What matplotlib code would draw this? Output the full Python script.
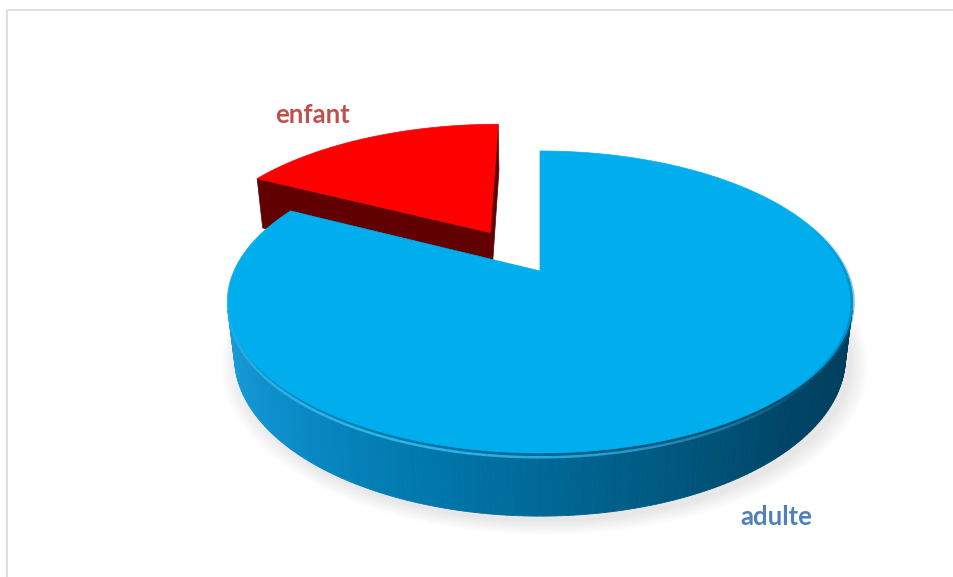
import numpy as np
import matplotlib
matplotlib.use("Agg")
import matplotlib.pyplot as plt
from matplotlib.patches import Polygon, Rectangle
from matplotlib.colors import LinearSegmentedColormap

# donnees du graphique
categories = ["adulte", "enfant"]
values = [82.5, 17.5]
explode = [0.0, 0.33]
top_colors = ["#00AEEE", "#FF0000"]
side_colors = ["#0A8CC8", "#600000"]
label_colors = ["#4F81BD", "#C0504D"]

# camera (perspective style Excel 3D)
cx, cy = 540, 271
F, D = 1316.0, 4.30
elev = np.radians(28.2)
H = 0.207  # epaisseur du camembert


def proj(X, Y, Z):
    d = Y * np.cos(elev) - Z * np.sin(elev)
    up = Y * np.sin(elev) + Z * np.cos(elev)
    s = F / (D + d)
    return cx + X * s, cy - up * s


def rim(t_deg, z, off):
    t = np.radians(t_deg)
    return proj(np.cos(t) + off[0], np.sin(t) + off[1], z)


fig = plt.figure(figsize=(9.54, 5.77), dpi=100)
ax = fig.add_axes([0, 0, 1, 1])
ax.set_xlim(0, 954)
ax.set_ylim(577, 0)
ax.axis("off")

# cadre de la zone de graphique
ax.add_patch(Rectangle((7, 10), 960, 580, fill=False, edgecolor="#D9D9D9", linewidth=1.2))

# angles des parts (depart a 12h, sens horaire)
total = sum(values)
slices = []
start = 90.0
for i, v in enumerate(values):
    span = 360.0 * v / total
    t1, t2 = start - span, start
    mid = np.radians((t1 + t2) / 2)
    off = (explode[i] * np.cos(mid), explode[i] * np.sin(mid))
    slices.append((t1, t2, off))
    start = t1

# ombre douce sous la part "adulte" (secteur complet, centre inclus)
t1, t2, off = slices[0]
tt = np.radians(np.linspace(t1, t2, 200))
for k in range(6):
    grow = 1.0 + 0.01 * k
    xs = np.r_[0.0, np.cos(tt) * grow] + 0.015
    ys = np.r_[0.0, np.sin(tt) * grow] - 0.025
    x, y = proj(xs, ys, -H)
    ax.add_patch(Polygon(np.c_[x, y], closed=True, facecolor="#808080",
                         edgecolor="none", alpha=0.03, zorder=1))

# part "enfant" (a l'arriere)
t1, t2, off = slices[1]
for t_edge in (t1, t2):
    xa, ya = proj(off[0], off[1], 0)
    xb, yb = rim(t_edge, 0, off)
    xc, yc = rim(t_edge, -H, off)
    xd, yd = proj(off[0], off[1], -H)
    ax.add_patch(Polygon([[xa, ya], [xb, yb], [xc, yc], [xd, yd]], closed=True,
                         facecolor=side_colors[1], edgecolor=side_colors[1],
                         linewidth=0.5, zorder=2))
ts = np.linspace(t1, t2, 80)
x, y = rim(ts, 0, off)
x0, y0 = proj(off[0], off[1], 0)
ax.add_patch(Polygon(np.r_[[[x0, y0]], np.c_[x, y]], closed=True,
                     facecolor=top_colors[1], edgecolor=top_colors[1],
                     linewidth=0.5, zorder=3))

# part "adulte" : flanc avec degrade
t1, t2, off = slices[0]
wall_cmap = LinearSegmentedColormap.from_list(
    "wall", ["#1A9DD8", "#0A8CC8", "#0075A8", "#005C85", "#004465", "#003D5C"])
w1 = max(t1, -165.0)
w2 = min(t2, -15.0)
ts = np.linspace(w1, w2, 160)
for a, b in zip(ts[:-1], ts[1:]):
    xa, ya = rim(a, 0, off)
    xb, yb = rim(b, 0, off)
    xc, yc = rim(b, -H, off)
    xd, yd = rim(a, -H, off)
    c = wall_cmap((a - w1) / (w2 - w1))
    ax.add_patch(Polygon([[xa, ya], [xb, yb], [xc, yc], [xd, yd]], closed=True,
                         facecolor=c, edgecolor=c, linewidth=0.6, zorder=4))

ts = np.linspace(t1, t2, 300)
x, y = rim(ts, 0, off)
x0, y0 = proj(off[0], off[1], 0)
ax.add_patch(Polygon(np.r_[[[x0, y0]], np.c_[x, y]], closed=True,
                     facecolor=top_colors[0], edgecolor=top_colors[0],
                     linewidth=0.5, zorder=5))

# biseau : reflet clair qui s'estompe, ombre a droite
ts = np.linspace(-178, -40, 70)
for a, b in zip(ts[:-1], ts[1:]):
    x, y = rim(np.array([a, b]), -0.014, off)
    fade = np.sin(np.pi * (a + 178) / 138)
    ax.plot(x, y, color="#45CCFF", linewidth=1.8, alpha=0.7 * fade, zorder=6,
            solid_capstyle="butt")
ts = np.linspace(-50, 20, 60)
for a, b in zip(ts[:-1], ts[1:]):
    x, y = rim(np.array([a, b]), -0.002, off)
    fade = np.sin(np.pi * (a + 50) / 70)
    ax.plot(x, y, color="#007AAB", linewidth=3.0, alpha=0.5 * fade, zorder=6,
            solid_capstyle="butt")

# etiquettes
ax.text(313, 115, categories[1], color=label_colors[1], fontsize=18.5,
        fontweight="bold", family="Lato", ha="center", va="center", zorder=7)
ax.text(776, 517, categories[0], color=label_colors[0], fontsize=18.5,
        fontweight="bold", family="Lato", ha="center", va="center", zorder=7)

fig.savefig("out.png", dpi=100)
